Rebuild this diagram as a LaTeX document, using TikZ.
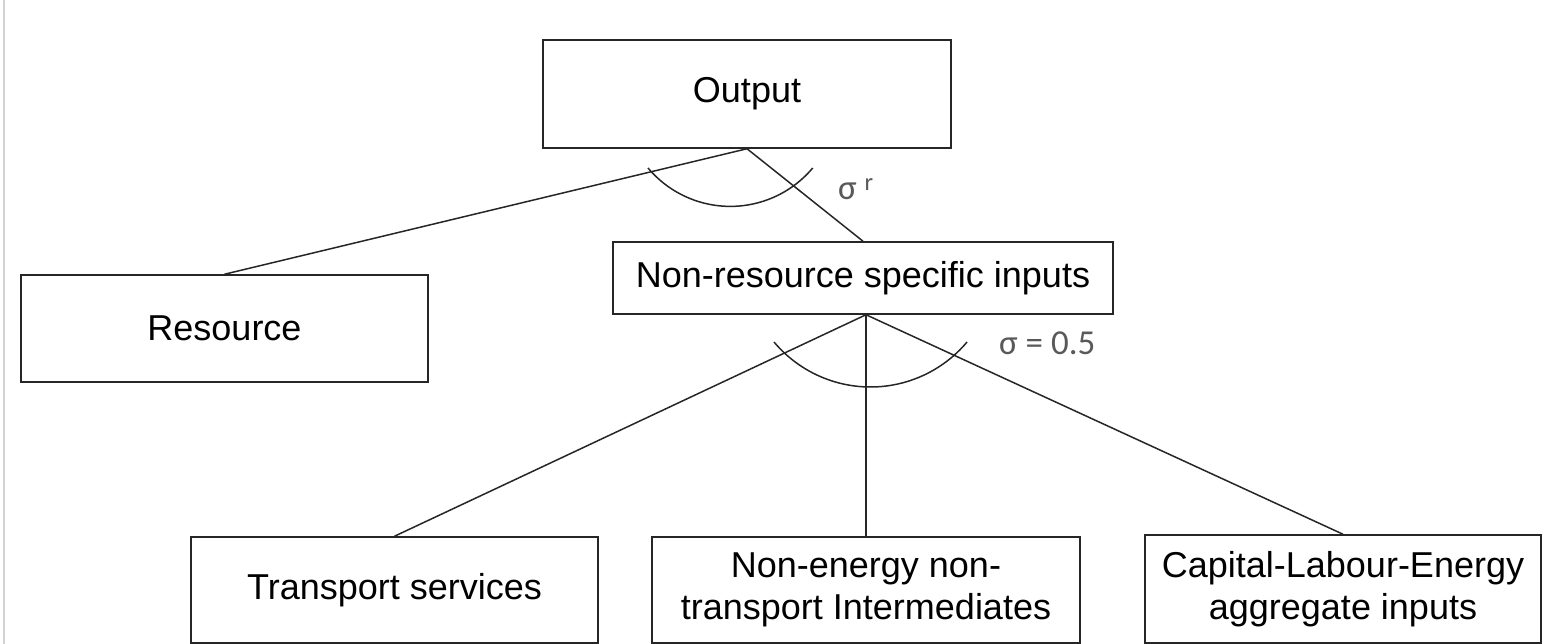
\documentclass[tikz,border=0pt]{standalone}
\usepackage{fontspec}
\setmainfont{Liberation Sans}
\newfontfamily\sigfont{Carlito}
\usetikzlibrary{positioning}
\tikzset{
  box/.style={draw=black!85, line width=1.5pt, align=center, inner sep=0pt, font=\fontsize{36}{42}\selectfont},
  lnk/.style={draw=black!85, line width=1.5pt},
  sig/.style={font=\sigfont\fontsize{35}{38}\selectfont, text=black!65, inner sep=0pt}
}
\begin{document}
\begin{tikzpicture}[x=1pt,y=1pt]
  \useasboundingbox (0,0) rectangle (1542,644);
  \draw[gray!35, line width=2pt] (3.5,0) -- (3.5,644);
  \node[box, minimum width=408pt, minimum height=108pt] (out) at (747,550) {Output};
  \node[box, minimum width=407pt, minimum height=107pt] (res) at (224.5,315.5) {Resource};
  \node[box, minimum width=500pt, minimum height=72pt] (nrs) at (863,366) {Non-resource specific inputs};
  \node[box, minimum width=407pt, minimum height=106pt] (trn) at (394.5,54) {Transport services};
  \node[box, minimum width=428pt, minimum height=106pt] (mid) at (866,54) {Non-energy non-\\transport Intermediates};
  \node[box, minimum width=396pt, minimum height=108pt] (cap) at (1343,55) {Capital-Labour-Energy\\aggregate inputs};
  \coordinate (fork) at ([xshift=3pt]nrs.south);
  \draw[lnk] (out.south) -- (res.north);
  \draw[lnk] (out.south) -- (nrs.north);
  \draw[lnk] (fork) -- (trn.north);
  \draw[lnk] (fork) -- (mid.north);
  \draw[lnk] (fork) -- (cap.north);
  \draw[lnk] (648,476) arc (220:320:107.5);
  \draw[lnk] (774,302) arc (220:320:126);
  \node[sig, anchor=base west] (sr) at (838,444) {σ \textsuperscript{r}};
  \node[sig, anchor=base west] (sh) at (999,289) {σ = 0.5};
\end{tikzpicture}
\end{document}
